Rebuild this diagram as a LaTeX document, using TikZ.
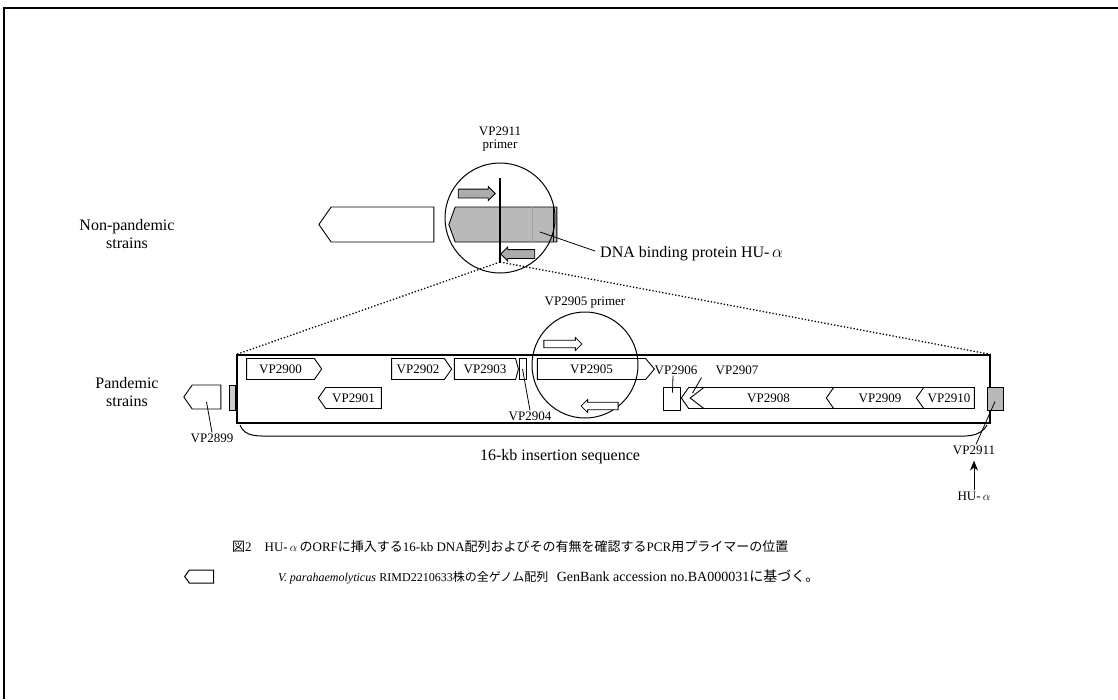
\documentclass[tikz,border=0pt]{standalone}
\usepackage{fontspec}
\setmainfont{Liberation Serif}
\newfontfamily\cjk{Noto Sans CJK JP}
\usetikzlibrary{shapes.symbols, shapes.arrows, arrows.meta}
\newcommand{\genefont}{\fontsize{13}{15}\selectfont}
\newcommand{\labfont}{\fontsize{16}{18}\selectfont}
\newcommand{\capfont}{\fontsize{13}{15}\selectfont}
\tikzset{
    gene/.style={draw, fill=white, line width=0.9pt, signal, signal pointer angle=110, minimum height=21, inner sep=0pt, font=\genefont},
    fwd/.style={gene, signal to=east, signal from=nowhere},
    rev/.style={gene, signal to=west, signal from=nowhere},
    stub/.style={draw, line width=0.9pt, rectangle, inner sep=0pt, minimum height=23},
    primer/.style={draw, line width=0.8pt, single arrow, single arrow head extend=2.5pt, minimum height=37, minimum width=13, inner xsep=0pt, inner ysep=4pt},
    lens/.style={draw, line width=1pt, circle, inner sep=0pt},
    tag/.style={font=\genefont, inner sep=1pt},
    lab/.style={font=\labfont, align=center, inner sep=0pt},
    leader/.style={line width=0.8pt}
}

\begin{document}
\begin{tikzpicture}[x=1pt, y=-1pt]
    \useasboundingbox (0,0) rectangle (1118,699);
    % Frame
    \draw[line width=1.5pt] (4,699) -- (4,8) -- (1118,8);

    % Non-pandemic strains
    \node[lab] (nonpan) at (127,234) {Non-pandemic\\strains};
    \node[rev, minimum width=115, minimum height=35] (orfl) at (382.5,224.5) {};
    \node[gene, signal to=west, signal from=nowhere, signal pointer angle=140, minimum width=108, minimum height=35, fill=gray!55] (hu) at (506,224.5) {};
    \draw[gray!75, line width=0.6pt] (532,207) -- (532,242);
    \draw[line width=0.9pt] (553,207) -- (553,242);
    \node[primer, fill=gray!65] (hufwd) at (474.5,193.5) {};
    \node[primer, fill=gray!65, shape border rotate=180, minimum height=34] (hurev) at (520,254) {};
    \coordinate (cuttop) at (500,178);
    \coordinate (cut) at (500,262);
    \draw[line width=1.2pt] (cuttop) -- (cut);
    \node[lens, minimum size=110] (lensa) at (500,218) {};
    \node[tag, align=center, font=\genefont\linespread{0.9}\selectfont] (prima) at (500,139) {VP2911\\primer};
    \node[lab, anchor=west] (hulab) at (600,254) {DNA binding protein HU-\,$\alpha$};
    \draw[leader] (540,232) -- ([xshift=-5pt, yshift=3pt]hulab.west);

    % Pandemic strains
    \node[lab] (pan) at (127,392) {Pandemic\\strains};
    \node[draw, line width=1.2pt, minimum width=753, minimum height=68, inner sep=0pt] (ins) at (613.5,389) {};
    \draw[dotted, line width=1.3pt] (cut) -- (ins.north west);
    \draw[dotted, line width=1.3pt] (cut) -- (ins.north east);

    % Genes, upper row
    \node[fwd, minimum width=75] (vp2900) at (280.5,369) {VP2900};
    \node[fwd, minimum width=60] (vp2902) at (418,369) {VP2902};
    \node[fwd, signal pointer angle=150, minimum width=64] (vp2903) at (485,369) {VP2903};
    \node[stub, minimum width=7, minimum height=21] (vp2904) at (522.5,369) {};
    \node[fwd, signal pointer angle=100, minimum width=117] (vp2905) at (591.5,369) {VP2905};

    % Genes, lower row
    \node[rev, minimum width=63] (vp2901) at (353.5,398) {VP2901};
    \node[stub, minimum width=17] (vp2906) at (671.5,398.5) {};
    \node[rev, minimum width=27] (vp2907) at (698.5,398) {};
    \node[rev, signal pointer angle=75, minimum width=143] (vp2908) at (768.5,398) {VP2908};
    \node[rev, minimum width=100] (vp2909) at (880,398) {VP2909};
    \node[rev, minimum width=58] (vp2910) at (949,398) {VP2910};
    \node[stub, fill=gray!55, minimum width=16] (vp2911) at (995,398.5) {};
    \node[rev, minimum width=37, minimum height=24] (vp2899) at (206.5,397) {};
    \node[stub, fill=gray!40, minimum width=6, minimum height=25] (hul) at (232,397.5) {};

    % Gene labels
    \node[tag] (l2899) at (212,438) {VP2899};
    \draw[leader] (l2899.north) -- ([yshift=-5pt]vp2899.center);
    \node[tag] (l2904) at (530,416) {VP2904};
    \draw[leader] (l2904.north) -- (vp2904.center);
    \node[tag] (l2906) at (676,370) {VP2906};
    \draw[leader] ([xshift=-3pt]l2906.south) -- ([xshift=1pt, yshift=-6pt]vp2906.north);
    \node[tag] (l2907) at (737,370) {VP2907};
    \draw[leader] ([xshift=-13pt, yshift=-2pt]l2907.south west) -- ([xshift=-6pt, yshift=-6pt]vp2907.north);
    \node[tag] (l2911) at (974,450) {VP2911};
    \draw[leader] ([xshift=2pt]l2911.north) -- ([yshift=-3pt]vp2911.center);
    \node[tag] (luha) at (974,496) {HU-\,$\alpha$};
    \draw[leader, -{Stealth[length=10pt, width=8pt]}] (luha.north) -- ([yshift=-5pt]l2911.south);

    % Insertion brace
    \draw[line width=1pt] (240,425) to[out=-70, in=180] (272,436) -- (950,436) to[out=0, in=-120] (987,425);
    \node[lab] (inslab) at (560,457) {16-kb insertion sequence};

    % Lens on VP2905
    \node[lens, minimum size=106] (lensb) at (585,365) {};
    \node[tag] (primb) at (585,303) {VP2905 primer};
    \node[primer, fill=white, minimum height=38, inner ysep=3pt] (vpfwd) at (561,344) {};
    \node[primer, fill=white, shape border rotate=180, inner ysep=3pt] (vprev) at (601.5,406) {};

    % Caption and legend
    \node[font=\capfont, anchor=west, inner sep=0pt] (cap) at (232,547) {{\cjk 図}2\hspace{1em}HU-\,$\alpha$\,{\cjk の}ORF{\cjk に挿入する}16-kb DNA{\cjk 配列およびその有無を確認する}PCR{\cjk 用プライマーの位置}};
    \node[rev, line width=1pt, minimum width=29, minimum height=13] (leg) at (201.5,576.5) {};
    \node[font=\fontsize{14}{16}\selectfont, anchor=west, inner sep=0pt] (legtxt) at (278,577) {{\fontsize{12}{14}\selectfont\itshape V. parahaemolyticus} {\fontsize{12}{14}\selectfont RIMD2210633{\cjk 株の全ゲノム配列}}\hspace{0.6em}GenBank accession no.BA000031{\cjk に基づく。}};
\end{tikzpicture}
\end{document}
